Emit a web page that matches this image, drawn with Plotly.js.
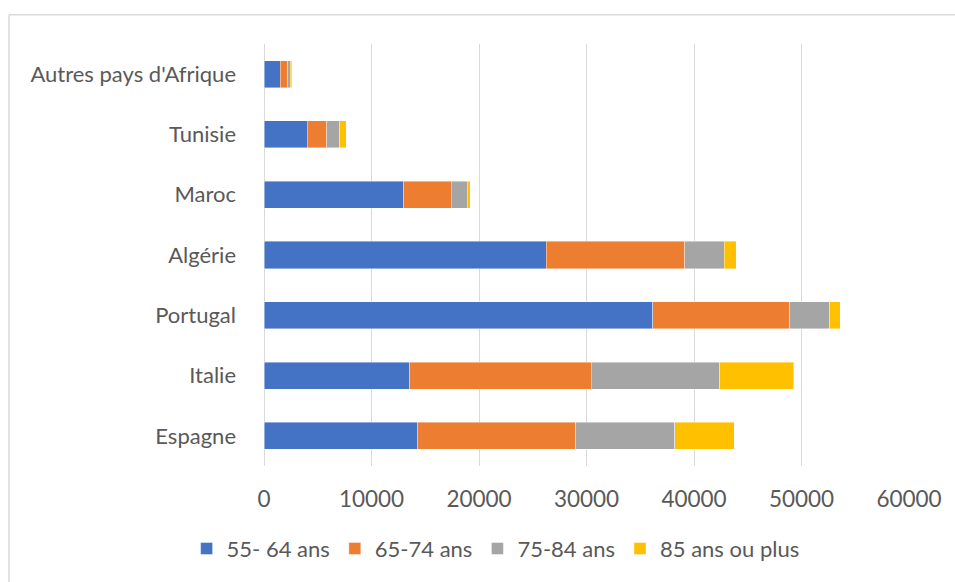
<!DOCTYPE html>
<html>
<head>
<meta charset="utf-8">
<script src="https://cdn.plot.ly/plotly-3.0.1.min.js"></script>
<style>
html,body{margin:0;padding:0;background:#fff;}
#chart{width:955px;height:582px;}
</style>
</head>
<body>
<div id="chart"></div>
<script>
const categories = ["Espagne", "Italie", "Portugal", "Algérie", "Maroc", "Tunisie", "Autres pays d'Afrique"];
const seriesNames = ["55- 64 ans", "65-74 ans", "75-84 ans", "85 ans ou plus"];
const s55_64 = [14310, 13560, 36160, 26270, 13020, 4030, 1490];
const s65_74 = [14700, 16870, 12740, 12850, 4380, 1800, 710];
const s75_84 = [9220, 11960, 3740, 3690, 1520, 1210, 250];
const s85plus = [5520, 6870, 960, 1120, 280, 590, 120];
const xTickVals = [0, 10000, 20000, 30000, 40000, 50000, 60000];
const xTickText = ["0", "10000", "20000", "30000", "40000", "50000", "60000"];

const colors = ["#4472C4", "#ED7D31", "#A5A5A5", "#FFC000"];
const seriesValues = [s55_64, s65_74, s75_84, s85plus];

const traces = seriesValues.map((vals, i) => ({
  type: "bar",
  orientation: "h",
  name: seriesNames[i],
  y: categories,
  x: vals,
  marker: {color: colors[i], line: {color: "rgba(255,255,255,0.7)", width: 0.6}},
  hoverinfo: "x+y+name"
}));

const font = "Lato, 'Open Sans', sans-serif";
const layout = {
  width: 955,
  height: 582,
  barmode: "stack",
  bargap: 0.55,
  paper_bgcolor: "#ffffff",
  plot_bgcolor: "#ffffff",
  margin: {l: 264, r: 46, t: 44, b: 114, pad: 0},
  font: {family: font, color: "#595959", size: 20},
  xaxis: {
    range: [0, 60000],
    tickvals: xTickVals,
    ticktext: xTickText,
    showgrid: true,
    gridcolor: "#D9D9D9",
    gridwidth: 1.4,
    zeroline: true,
    zerolinecolor: "#D9D9D9",
    zerolinewidth: 1.4,
    showline: false,
    ticks: "",
    ticklabelstandoff: 17,
    tickfont: {family: font, size: 22.5, color: "#595959"},
    fixedrange: true
  },
  yaxis: {
    type: "category",
    categoryorder: "array",
    categoryarray: categories,
    showgrid: false,
    zeroline: false,
    showline: false,
    ticks: "",
    ticklabelstandoff: 27,
    tickfont: {family: font, size: 22, color: "#595959"},
    fixedrange: true
  },
  legend: {
    orientation: "h",
    x: -0.12,
    xanchor: "left",
    y: -0.196,
    yanchor: "middle",
    traceorder: "normal",
    font: {family: font, size: 22, color: "#595959"},
    bgcolor: "rgba(0,0,0,0)"
  },
  showlegend: true,
  shapes: [
    {type: "line", xref: "paper", yref: "paper", x0: -0.3953, x1: 1.08, y0: 1.0696, y1: 1.0696, line: {color: "#D9D9D9", width: 1.5}},
    {type: "line", xref: "paper", yref: "paper", x0: -0.3953, x1: -0.3953, y0: 1.0696, y1: -0.3, line: {color: "#D9D9D9", width: 1.5}}
  ]
};

Plotly.newPlot("chart", traces, layout, {displayModeBar: false, staticPlot: false});
</script>
</body>
</html>
